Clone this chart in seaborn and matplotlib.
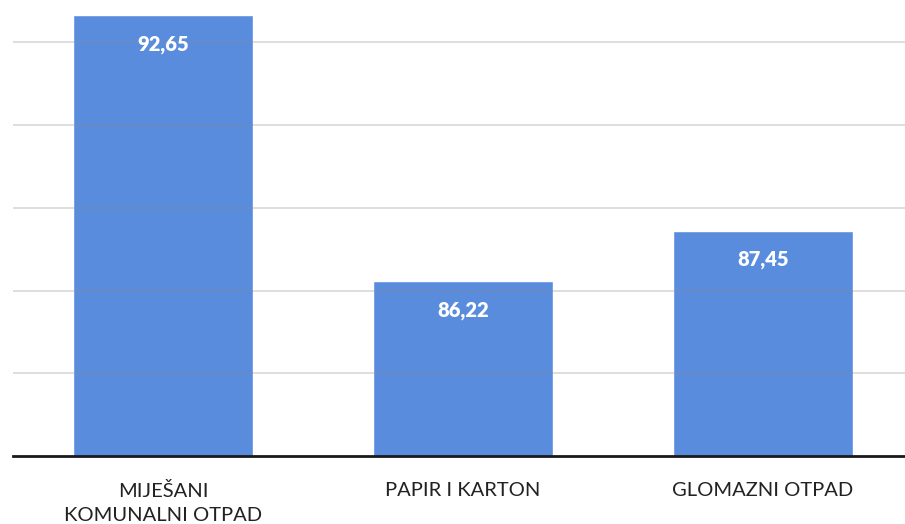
import matplotlib
matplotlib.use("Agg")
import matplotlib.pyplot as plt
import seaborn as sns

# Data
categories = ["MIJEŠANI\nKOMUNALNI OTPAD", "PAPIR I KARTON", "GLOMAZNI OTPAD"]
values = [92.65, 86.22, 87.45]
value_labels = ["92,65", "86,22", "87,45"]

sns.set_theme(style="white")
plt.rcParams["font.family"] = ["Lato", "DejaVu Sans"]

fig = plt.figure(figsize=(9.05, 5.24), dpi=100)
ax = fig.add_axes([13 / 905, 68 / 524, 900 / 905, 455 / 524])

sns.barplot(x=categories, y=values, color="#5A8CDE", saturation=1,
            width=0.6, ax=ax, zorder=2)

ax.set_ylim(82, 93)
ax.set_xlim(-0.5, 2.5)
ax.set_yticks([84, 86, 88, 90, 92])
ax.yaxis.grid(True, color="#8a8a8a", linewidth=1.3, alpha=0.3, zorder=3)
ax.set_axisbelow(False)

for s in ["top", "right", "left"]:
    ax.spines[s].set_visible(False)
ax.spines["bottom"].set_color("#1a1a1a")
ax.spines["bottom"].set_linewidth(2.0)
ax.spines["bottom"].set_zorder(4)

ax.tick_params(axis="y", left=False, labelleft=False)
ax.tick_params(axis="x", bottom=False, pad=13, labelsize=14.5, labelcolor="#222222")
for lbl in ax.get_xticklabels():
    lbl.set_linespacing(1.5)
    lbl.set_verticalalignment("top")
ax.set_xlabel("")
ax.set_ylabel("")

for i, (v, t) in enumerate(zip(values, value_labels)):
    ax.annotate(t, xy=(i, v), xytext=(0, -21), textcoords="offset points",
                ha="center", va="center", color="white", fontsize=14.5,
                fontweight="heavy", zorder=5)

fig.savefig("out.png", dpi=100)
